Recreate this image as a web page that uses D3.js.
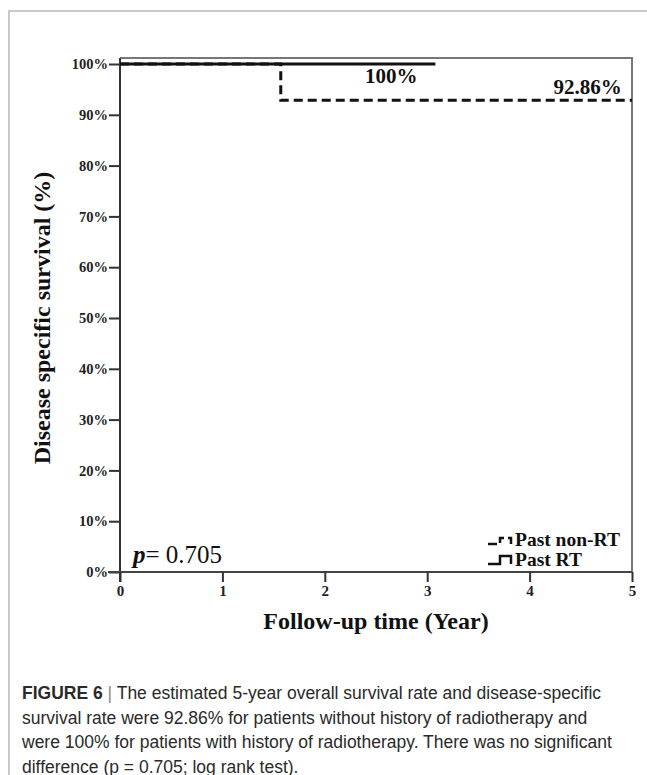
<!DOCTYPE html>
<html><head><meta charset="utf-8">
<script src="https://cdn.jsdelivr.net/npm/d3@7"></script>
<style>body{margin:0;background:#fff}svg{display:block}</style>
</head><body>
<script>
// ---- data ----
const xTickValues = [0, 1, 2, 3, 4, 5];
const yTickValues = [0, 10, 20, 30, 40, 50, 60, 70, 80, 90, 100];
const seriesNames = ["Past non-RT", "Past RT"];
const nonRTTime = [0, 1.57, 5];
const nonRTSurv = [100, 92.86, 92.86];
const rtTime = [0, 3.08];
const rtSurv = [100, 100];
const endLabels = ["92.86%", "100%"];
const pText = "0.705";
const captionLines = [
  "The estimated 5-year overall survival rate and disease-specific",
  "survival rate were 92.86% for patients without history of radiotherapy and",
  "were 100% for patients with history of radiotherapy. There was no significant",
  "difference (p = 0.705; log rank test)."
];

const W = 647, H = 775;
const svg = d3.select("body").append("svg").attr("width", W).attr("height", H);
const serif = "'Liberation Serif','Times New Roman',serif";
const sans = "'Liberation Sans',Arial,sans-serif";

// outer frame
svg.append("path").attr("d", `M9,${H} V11 H${W}`).attr("fill", "none")
  .attr("stroke", "#c9c9c9").attr("stroke-width", 2);

const L = 120, R = 632, T = 64, B = 572;
const x = d3.scaleLinear().domain([0, 5]).range([L, R]);
const y = d3.scaleLinear().domain([0, 100]).range([B, T]);

// box top/right
svg.append("path").attr("d", `M${L},58 H${R} V${B}`).attr("fill", "none")
  .attr("stroke", "#777").attr("stroke-width", 2);

// axes
const yAxis = svg.append("g").attr("transform", `translate(${L},0)`)
  .call(d3.axisLeft(y).tickValues(yTickValues).tickSize(11).tickPadding(1).tickFormat(d => d + "%"));
yAxis.select(".domain").attr("d", `M0,${B + 10} V58`).attr("stroke", "#333").attr("stroke-width", 2);
yAxis.selectAll(".tick line").attr("stroke", "#333").attr("stroke-width", 2);
yAxis.selectAll(".tick text").attr("font-family", serif).attr("font-weight", "bold")
  .attr("font-size", 14.5).attr("fill", "#222");

const xAxis = svg.append("g").attr("transform", `translate(0,${B})`)
  .call(d3.axisBottom(x).tickValues(xTickValues).tickSize(10).tickPadding(3).tickFormat(d3.format("d")));
xAxis.select(".domain").attr("d", `M${L - 12},0 H${R}`).attr("stroke", "#444").attr("stroke-width", 2);
xAxis.selectAll(".tick line").attr("stroke", "#333").attr("stroke-width", 2);
xAxis.selectAll(".tick text").attr("font-family", serif).attr("font-weight", "bold")
  .attr("font-size", 15).attr("fill", "#222");

// curves
const line = d3.line().x(d => x(d[0])).y(d => y(d[1])).curve(d3.curveStepAfter);
svg.append("path").datum(rtTime.map((t, i) => [t, rtSurv[i]])).attr("d", line)
  .attr("fill", "none").attr("stroke", "#111").attr("stroke-width", 3);
svg.append("path").datum(nonRTTime.map((t, i) => [t, nonRTSurv[i]])).attr("d", line)
  .attr("fill", "none").attr("stroke", "#111").attr("stroke-width", 3).attr("stroke-dasharray", "9,5");

// end labels
svg.append("text").attr("x", x(2.65)).attr("y", y(rtSurv[1]) + 19).attr("text-anchor", "middle")
  .attr("font-family", serif).attr("font-weight", "bold").attr("font-size", 21).attr("fill", "#111")
  .text(endLabels[1]);
svg.append("text").attr("x", x(4.9)).attr("y", y(nonRTSurv[2]) - 6).attr("text-anchor", "end")
  .attr("font-family", serif).attr("font-weight", "bold").attr("font-size", 21).attr("fill", "#111")
  .text(endLabels[0]);

// p value
const pt = svg.append("text").attr("x", 133).attr("y", 563)
  .attr("font-family", serif).attr("font-size", 25).attr("fill", "#111");
pt.append("tspan").attr("font-style", "italic").attr("font-weight", "bold").text("p");
pt.append("tspan").text("= " + pText);

// legend
const lx = 488;
const legY = [544, 564];
svg.append("path").attr("d", `M${lx},${legY[0]} H${lx + 12} V${legY[0] - 6} H${lx + 23} V${legY[0]}`)
  .attr("fill", "none").attr("stroke", "#111").attr("stroke-width", 2.5).attr("stroke-dasharray", "9,4");
svg.append("path").attr("d", `M${lx},${legY[1]} H${lx + 12} V${legY[1] - 8} H${lx + 23} V${legY[1]}`)
  .attr("fill", "none").attr("stroke", "#111").attr("stroke-width", 2.5);
seriesNames.forEach((n, i) => {
  svg.append("text").attr("x", lx + 27).attr("y", legY[i] + 2)
    .attr("font-family", serif).attr("font-weight", "bold").attr("font-size", 19.5).attr("fill", "#111")
    .text(n);
});

// axis titles
svg.append("text").attr("x", (L + R) / 2).attr("y", 629).attr("text-anchor", "middle")
  .attr("font-family", serif).attr("font-weight", "bold").attr("font-size", 24).attr("fill", "#111")
  .text("Follow-up time (Year)");
svg.append("text").attr("transform", `translate(50,${(T + B) / 2}) rotate(-90)`).attr("text-anchor", "middle")
  .attr("font-family", serif).attr("font-weight", "bold").attr("font-size", 24).attr("fill", "#111")
  .text("Disease specific survival (%)");

// caption
const cap = svg.append("g").attr("font-family", sans).attr("font-size", 17.5).attr("fill", "#2a2a2a");
captionLines.forEach((ln, i) => {
  const t = cap.append("text").attr("x", 22).attr("y", 699 + i * 24.5);
  if (i === 0) {
    t.append("tspan").attr("font-weight", "bold").text("FIGURE 6");
    t.append("tspan").attr("fill", "#888").text(" | ");
  }
  t.append("tspan").text(ln);
});
</script>
</body></html>
